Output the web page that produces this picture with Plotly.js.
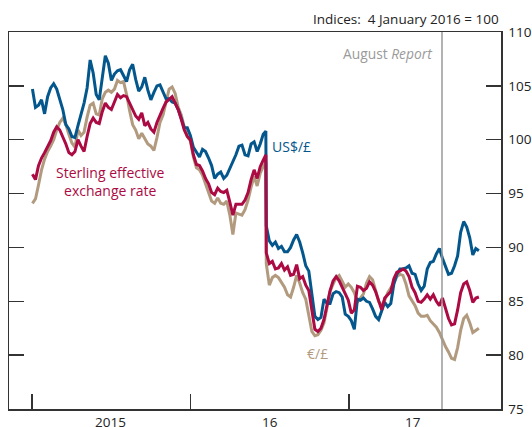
<!DOCTYPE html>
<html>
<head>
<meta charset="utf-8">
<script src="https://cdn.plot.ly/plotly-3.0.1.min.js"></script>
<style>html,body{margin:0;padding:0;background:#fff;}#chart{width:532px;height:427px;}</style>
</head>
<body>
<div id="chart"></div>
<script>
const dates = [
"2015-01-02","2015-01-09","2015-01-16","2015-01-23","2015-01-30","2015-02-06","2015-02-13","2015-02-20","2015-02-27","2015-03-06",
"2015-03-13","2015-03-20","2015-03-27","2015-04-03","2015-04-10","2015-04-17","2015-04-24","2015-05-01","2015-05-08","2015-05-15",
"2015-05-22","2015-05-29","2015-06-05","2015-06-12","2015-06-19","2015-06-26","2015-07-03","2015-07-10","2015-07-17","2015-07-24",
"2015-07-31","2015-08-07","2015-08-14","2015-08-21","2015-08-28","2015-09-04","2015-09-11","2015-09-18","2015-09-25","2015-10-02",
"2015-10-09","2015-10-16","2015-10-23","2015-10-30","2015-11-06","2015-11-13","2015-11-20","2015-11-27","2015-12-04","2015-12-11",
"2015-12-18","2015-12-25","2016-01-01","2016-01-08","2016-01-15","2016-01-22","2016-01-29","2016-02-05","2016-02-12","2016-02-19",
"2016-02-26","2016-03-04","2016-03-11","2016-03-18","2016-03-25","2016-04-01","2016-04-08","2016-04-15","2016-04-22","2016-04-29",
"2016-05-06","2016-05-13","2016-05-20","2016-05-27","2016-06-03","2016-06-10","2016-06-17",
"2016-06-23",
"2016-06-24","2016-07-01","2016-07-08",
"2016-07-15","2016-07-22","2016-07-29","2016-08-05","2016-08-12","2016-08-19","2016-08-26","2016-09-02","2016-09-09","2016-09-16",
"2016-09-23","2016-09-30","2016-10-07","2016-10-14","2016-10-21","2016-10-28","2016-11-04","2016-11-11","2016-11-18","2016-11-25",
"2016-12-02","2016-12-09","2016-12-16","2016-12-23","2016-12-30","2017-01-06","2017-01-13","2017-01-20","2017-01-27","2017-02-03",
"2017-02-10","2017-02-17","2017-02-24","2017-03-03","2017-03-10","2017-03-17","2017-03-24","2017-03-31","2017-04-07","2017-04-14",
"2017-04-21","2017-04-28","2017-05-05","2017-05-12","2017-05-19","2017-05-26","2017-06-02","2017-06-09","2017-06-16","2017-06-23",
"2017-06-30","2017-07-07","2017-07-14","2017-07-21","2017-07-28","2017-08-04","2017-08-11","2017-08-18","2017-08-25","2017-09-01",
"2017-09-08","2017-09-15","2017-09-22","2017-09-29","2017-10-06","2017-10-13","2017-10-20","2017-10-27"
];

const usd = [
104.7,103.0,103.2,103.7,102.4,104.0,104.8,105.2,104.7,103.7,
102.8,101.4,101.0,100.3,100.2,101.3,102.4,103.4,104.8,107.4,
106.2,104.2,103.7,105.6,107.8,107.1,105.5,106.1,106.4,106.5,
106.0,105.4,106.5,107.0,105.6,104.5,104.9,105.8,104.6,103.7,
104.4,105.0,105.1,104.5,103.8,103.8,103.5,103.4,102.8,102.0,
101.1,101.1,100.4,99.3,98.8,98.4,99.1,98.9,98.3,97.6,
96.4,96.8,97.0,96.4,96.7,97.3,97.9,98.6,99.4,99.5,
98.6,98.5,99.6,99.8,98.9,99.6,100.5,
100.8,
92.0,90.6,90.2,
90.5,89.9,90.1,89.6,89.6,90.0,90.7,91.2,90.5,89.5,
88.3,87.8,85.5,83.6,83.3,83.5,85.2,84.8,84.8,85.7,
85.9,85.8,85.4,83.8,83.6,83.2,82.4,85.2,85.1,85.3,
85.0,84.9,84.3,83.6,83.3,84.2,84.9,84.5,84.8,86.6,
87.5,88.0,88.0,88.1,88.3,87.6,87.5,86.6,86.0,86.4,
88.0,88.6,88.7,89.4,89.9,89.0,88.3,87.5,87.6,88.3,
89.2,91.4,92.4,91.9,90.9,89.3,89.9,89.7
];

const eer = [
96.8,96.3,97.6,98.3,98.8,99.4,99.9,100.7,101.2,100.9,
100.3,99.6,98.8,98.6,98.9,100.0,99.4,98.9,100.3,101.5,
102.0,101.6,101.5,102.6,103.4,103.0,102.8,103.5,104.2,103.9,
104.1,104.0,103.4,102.9,102.2,101.9,102.5,101.3,101.6,101.0,
100.7,101.6,102.3,102.9,103.5,103.8,104.0,103.4,102.8,101.9,
100.9,100.3,100.0,98.6,97.7,97.6,97.1,96.4,95.9,95.1,
94.9,95.5,95.2,95.1,95.3,94.2,93.0,94.0,94.0,94.0,
94.4,95.1,96.3,97.2,96.4,97.5,98.1,
98.6,
89.5,88.5,88.7,
88.0,88.1,88.5,87.9,88.2,87.4,87.5,88.4,87.1,87.3,
86.5,86.0,84.0,82.4,82.2,82.5,83.3,84.8,86.0,86.9,
87.3,86.9,86.3,85.6,85.1,83.9,84.2,86.4,86.3,86.0,
86.2,86.8,86.5,85.9,85.0,84.2,85.3,85.6,85.9,87.1,
87.7,87.8,88.0,87.8,87.3,86.3,85.8,85.0,84.9,85.2,
85.6,85.2,85.6,85.0,84.6,85.3,84.3,83.4,82.8,82.9,
84.2,85.8,86.6,86.8,86.0,84.9,85.3,85.4
];

const eur = [
94.1,94.5,95.8,97.2,98.2,98.9,99.4,100.0,100.9,101.6,
102.0,101.4,100.5,99.7,99.3,100.9,100.4,100.7,102.1,103.2,
103.4,102.4,102.3,103.8,104.4,104.6,104.4,104.7,105.5,105.3,
105.4,104.2,102.7,101.4,100.9,100.1,100.6,100.1,99.6,99.4,
99.0,100.2,101.6,102.3,103.6,104.7,104.9,104.3,103.0,102.3,
101.2,100.3,99.9,98.4,97.4,97.2,96.7,95.9,95.2,94.3,
94.1,94.6,94.1,94.0,94.3,93.0,91.2,93.2,93.1,93.0,
93.5,94.4,95.6,96.6,95.7,96.9,97.5,
97.9,
88.5,86.5,87.2,
87.4,87.2,86.8,86.3,85.6,85.4,86.3,87.4,86.7,85.8,
85.2,83.6,82.2,81.8,81.9,82.3,83.0,84.4,85.9,86.6,
87.2,87.4,86.9,86.3,86.6,86.3,85.8,84.9,85.3,85.7,
86.7,87.3,87.0,86.0,85.0,84.6,85.1,85.8,86.2,86.7,
87.3,87.5,87.4,86.6,85.5,85.0,84.6,83.9,83.6,83.6,
83.7,83.2,82.9,82.6,82.1,81.4,80.8,80.3,79.7,79.6,
80.7,82.3,83.4,83.7,83.0,82.1,82.3,82.5
];

const yearTicks = ["2015-01-01","2016-01-01","2017-01-01"];
const yearLabels = ["2015","16","17"];
const yearLabelPos = ["2015-07-02","2016-07-02","2017-05-28"];
const reportDate = "2017-08-03";

const BLUE = "#04578c", RED = "#ab0a43", TAN = "#b29a7f";
const FONT = "Open Sans, Noto Sans, sans-serif";

const traces = [
  {x: dates, y: eur, type: "scatter", mode: "lines", name: "€/£", line: {color: TAN, width: 3}},
  {x: dates, y: usd, type: "scatter", mode: "lines", name: "US$/£", line: {color: BLUE, width: 3}},
  {x: dates, y: eer, type: "scatter", mode: "lines", name: "Sterling effective exchange rate", line: {color: RED, width: 3}}
];

const annotations = [
  {xref: "paper", yref: "paper", x: 1, y: 1, xanchor: "right", yanchor: "bottom", yshift: 2,
   text: "Indices:&nbsp;&nbsp;4 January 2016 = 100", showarrow: false, font: {family: FONT, size: 13.5, color: "#222"}},
  {xref: "x", yref: "paper", x: reportDate, y: 0.944, xanchor: "right", yanchor: "middle", xshift: -8,
   text: "August <i>Report</i>", showarrow: false, font: {family: FONT, size: 13.8, color: "#9a9a9a"}},
  {xref: "x", yref: "paper", x: "2016-07-05", y: 0.695, xanchor: "left", yanchor: "middle", xshift: -1,
   text: "US$/£", showarrow: false, font: {family: FONT, size: 14, color: BLUE}},
  {xref: "x", yref: "paper", x: "2015-07-02", y: 0.603, xanchor: "center", yanchor: "middle", align: "center",
   text: "Sterling effective<br>exchange rate", showarrow: false, font: {family: FONT, size: 14, color: RED}},
  {xref: "x", yref: "paper", x: "2016-10-19", y: 0.1485, xanchor: "center", yanchor: "middle",
   text: "€/£", showarrow: false, font: {family: FONT, size: 14, color: TAN}}
];
yearLabels.forEach((t, i) => annotations.push({
  xref: "x", yref: "paper", x: yearLabelPos[i], y: 0, xanchor: "center", yanchor: "top", yshift: -2,
  text: t, showarrow: false, font: {family: FONT, size: 13.5, color: "#222"}
}));

const layout = {
  width: 532, height: 427,
  margin: {l: 9, r: 31, t: 32, b: 18, pad: 0},
  paper_bgcolor: "#fff", plot_bgcolor: "#fff",
  showlegend: false,
  font: {family: FONT, size: 13.5, color: "#222"},
  xaxis: {
    type: "date", range: ["2014-11-09", "2017-12-17"],
    tickvals: yearTicks, showticklabels: false,
    ticks: "inside", ticklen: 15, tickwidth: 1.5, tickcolor: "#333",
    showline: true, linecolor: "#333", linewidth: 1.5, mirror: true,
    showgrid: false, zeroline: false
  },
  yaxis: {
    side: "right", range: [75, 110], dtick: 5, tick0: 75,
    ticks: "inside", ticklen: 15, tickwidth: 1.5, tickcolor: "#333",
    showline: true, linecolor: "#333", linewidth: 1.5, mirror: "ticks",
    showgrid: false, zeroline: false, ticklabelstandoff: 3,
    tickfont: {family: FONT, size: 13.5, color: "#222"}
  },
  shapes: [
    {type: "line", xref: "x", yref: "paper", x0: reportDate, x1: reportDate, y0: 0, y1: 1,
     line: {color: "#9a9a9a", width: 1.5}}
  ],
  annotations: annotations
};

Plotly.newPlot("chart", traces, layout, {displayModeBar: false, staticPlot: true});
</script>
</body>
</html>
